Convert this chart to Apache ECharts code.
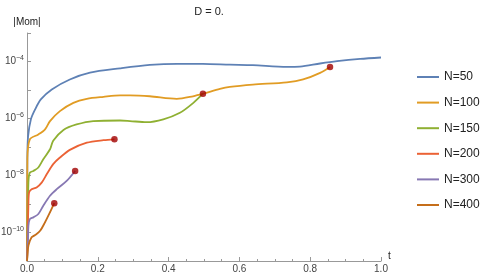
<!DOCTYPE html>
<html><head><meta charset="utf-8">
<script src="https://cdn.jsdelivr.net/npm/echarts@6/dist/echarts.min.js"></script>
<style>html,body{margin:0;padding:0;background:#fff}#c{width:491px;height:278px}</style>
</head><body><div id="c"></div>
<script>
// Data: t values and log10(|Mom|)
const seriesNames = ['N=50','N=100','N=150','N=200','N=300','N=400'];
const colors = ['#5E81B5','#E19C24','#8FB032','#EB6235','#8778B3','#C56E1A'];

const t_N50 = [0, 0.001, 0.003, 0.011, 0.023, 0.039, 0.070, 0.121, 0.178, 0.263, 0.347, 0.424, 0.497, 0.573, 0.638, 0.734, 0.771, 0.828, 0.876, 0.941, 1.0];
const lg_N50 = [-11, -7.4, -6.63, -6.03, -5.68, -5.33, -4.98, -4.63, -4.39, -4.24, -4.12, -4.08, -4.08, -4.11, -4.13, -4.19, -4.18, -4.07, -3.99, -3.91, -3.86];

const t_N100 = [0, 0.001, 0.008, 0.032, 0.051, 0.065, 0.093, 0.131, 0.169, 0.216, 0.263, 0.291, 0.347, 0.423, 0.469, 0.498, 0.545, 0.573, 0.638, 0.734, 0.780, 0.828, 0.856];
const lg_N100 = [-11, -7.43, -6.73, -6.56, -6.38, -6.09, -5.74, -5.45, -5.31, -5.24, -5.19, -5.19, -5.22, -5.31, -5.22, -5.13, -4.96, -4.89, -4.81, -4.73, -4.63, -4.40, -4.19];

const t_N150 = [0, 0.004, 0.008, 0.018, 0.032, 0.046, 0.065, 0.074, 0.103, 0.140, 0.187, 0.263, 0.291, 0.338, 0.385, 0.432, 0.470, 0.497];
const lg_N150 = [-11, -8.24, -7.90, -7.84, -7.72, -7.43, -7.08, -6.78, -6.40, -6.21, -6.09, -6.07, -6.09, -6.13, -6.03, -5.80, -5.45, -5.13];

const t_N200 = [0, 0.004, 0.006, 0.013, 0.027, 0.042, 0.056, 0.074, 0.093, 0.121, 0.169, 0.216, 0.247];
const lg_N200 = [-11, -9.0, -8.59, -8.48, -8.42, -8.24, -7.95, -7.60, -7.37, -7.10, -6.85, -6.76, -6.73];

const t_N300 = [0, 0.003, 0.004, 0.008, 0.018, 0.032, 0.046, 0.065, 0.084, 0.112, 0.136];
const lg_N300 = [-11, -10.23, -9.76, -9.53, -9.47, -9.35, -9.06, -8.71, -8.48, -8.19, -7.84];

const t_N400 = [0, 0.001, 0.004, 0.013, 0.023, 0.037, 0.051, 0.065, 0.077];
const lg_N400 = [-11, -10.86, -10.46, -10.17, -10.09, -9.94, -9.64, -9.29, -8.97];

const xTickLabels = ['0.0','0.2','0.4','0.6','0.8','1.0'];

const allT = [t_N50, t_N100, t_N150, t_N200, t_N300, t_N400];
const allLg = [lg_N50, lg_N100, lg_N150, lg_N200, lg_N300, lg_N400];

const series = seriesNames.map((n, i) => ({
  name: n, type: 'line', smooth: 0.3, showSymbol: false, symbol: 'none',
  lineStyle: { width: 1.8, color: colors[i] }, itemStyle: { color: colors[i] },
  data: allT[i].map((t, k) => [t, Math.pow(10, allLg[i][k])]), z: 2
}));
// end-point dots (from the last point of each series except N=50)
const dots = [];
for (let i = 1; i < allT.length; i++) {
  const k = allT[i].length - 1;
  dots.push([allT[i][k], Math.pow(10, allLg[i][k])]);
}
series.push({ type: 'scatter', data: dots, symbolSize: 6.5, itemStyle: { color: '#A00000' }, z: 5, silent: true });

const chart = echarts.init(document.getElementById('c'), null, { renderer: 'canvas' });
chart.setOption({
  animation: false,
  backgroundColor: '#fff',
  color: colors,
  title: { text: 'D = 0.', left: 204, top: 1, textAlign: 'center',
    textStyle: { fontSize: 11, fontWeight: 'normal', color: '#222', fontFamily: 'Liberation Sans' } },
  legend: {
    orient: 'vertical', left: 412, top: 65, itemWidth: 22, itemHeight: 2, itemGap: 11.6,
    icon: 'rect', data: seriesNames,
    textStyle: { fontSize: 12, color: '#222', fontFamily: 'Liberation Sans', lineHeight: 14 }
  },
  grid: { left: 27, right: 110, top: 33, bottom: 17, containLabel: false, outerBoundsMode: 'none' },
  xAxis: {
    type: 'value', min: 0, max: 1, interval: 0.2,
    name: 't', nameLocation: 'end', nameGap: 7,
    nameTextStyle: { fontSize: 10, color: '#222', fontFamily: 'Liberation Sans', verticalAlign: 'bottom' },
    axisLine: { lineStyle: { color: '#999', width: 1 } },
    axisTick: { inside: true, length: 4, lineStyle: { color: '#999' } },
    minorTick: { show: true, splitNumber: 4, length: 2, lineStyle: { color: '#999' } },
    axisLabel: { fontSize: 10, color: '#444', fontFamily: 'Liberation Sans', margin: 3,
      showMinLabel: true, showMaxLabel: true,
      formatter: function (v) {
        const k = Math.round(Number(v) / 0.2);
        return '{a|' + xTickLabels[k] + '}';
      },
      rich: { a: { fontSize: 10, color: '#444', fontFamily: 'Liberation Sans' } } },
    splitLine: { show: false }
  },
  yAxis: {
    type: 'log', logBase: 10, min: 1e-11, max: 1e-3, splitNumber: 8,
    name: '|Mom|', nameLocation: 'end', nameGap: 6,
    nameTextStyle: { fontSize: 10, color: '#222', fontFamily: 'Liberation Sans', align: 'center' },
    axisLine: { show: true, lineStyle: { color: '#999', width: 1 } },
    axisTick: { show: true, inside: true, length: 4, lineStyle: { color: '#999' } },
    axisLabel: { fontSize: 10, color: '#444', fontFamily: 'Liberation Sans', margin: 3,
      showMinLabel: false, showMaxLabel: false,
      formatter: v => {
        const e = Math.round(Math.log10(v));
        if (e % 2 !== 0 || e === -12 || e === -3 || e === -11) return '';
        return '10{s|\u2212' + (-e) + '}';
      },
      rich: { s: { fontSize: 7, verticalAlign: 'top', padding: [0,0,6,0], color: '#444', fontFamily: 'Liberation Sans' } }
    },
    splitLine: { show: false }
  },
  series: series
});
</script></body></html>
